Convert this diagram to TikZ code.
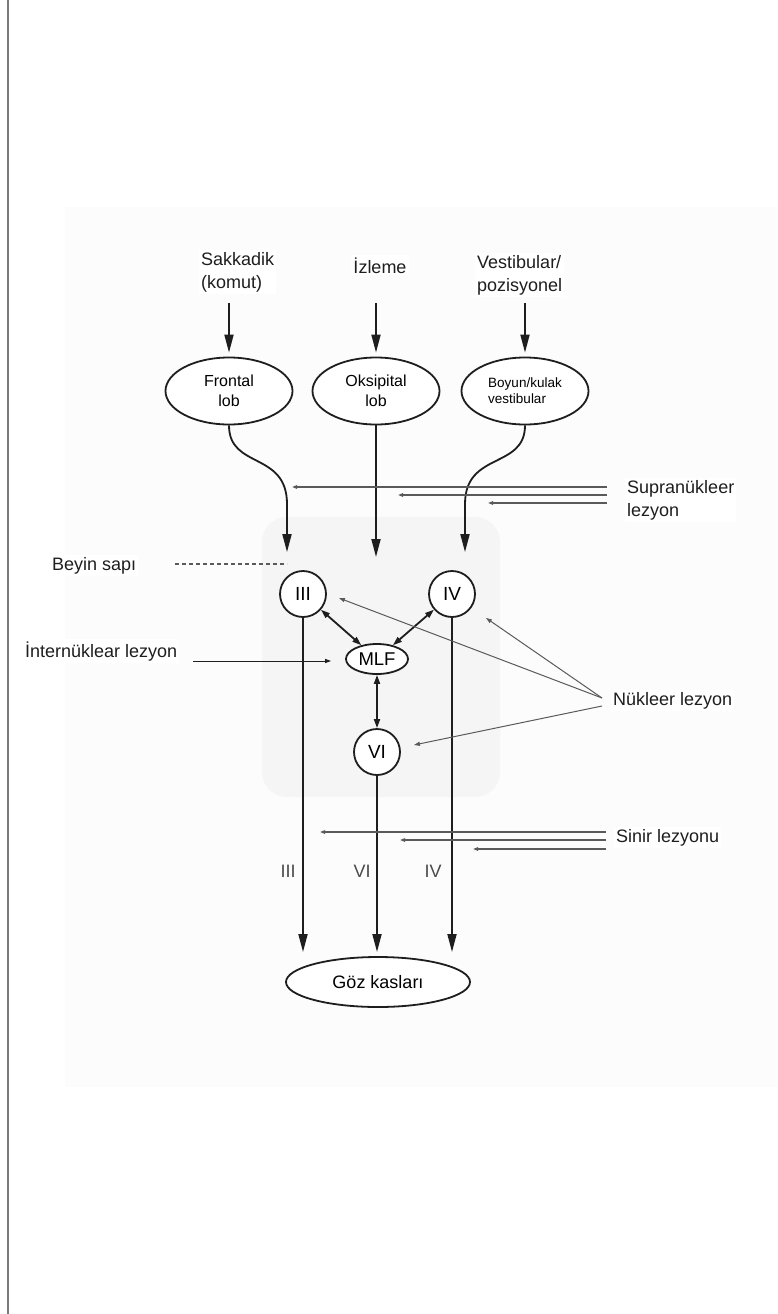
\documentclass[tikz,border=0pt]{standalone}
\usepackage{fontspec}
\setmainfont{Liberation Sans}
\usetikzlibrary{shapes.geometric, arrows.meta}

\definecolor{ink}{HTML}{1E1E1E}
\definecolor{lesion}{HTML}{5A5A5A}
\definecolor{panel}{HTML}{FCFCFC}
\definecolor{ghost}{HTML}{F5F5F5}
\definecolor{rule}{HTML}{7A7A7A}
\definecolor{nervegray}{HTML}{4A4A4A}

\begin{document}
\begin{tikzpicture}[x=1pt, y=-1pt,
  lobe/.style={draw=ink, line width=1.8pt, ellipse, inner sep=0pt,
    minimum width=127pt, minimum height=67pt, align=center, fill=white,
    font=\fontsize{16}{20}\selectfont},
  nucleus/.style={draw=ink, line width=1.8pt, circle, inner sep=0pt,
    minimum size=46pt, fill=white, font=\fontsize{19}{22}\selectfont},
  txt/.style={fill=white, inner sep=2pt, text=ink,
    font=\fontsize{18}{23}\selectfont},
  nervetxt/.style={text=nervegray, inner sep=0pt,
    font=\fontsize{18}{22}\selectfont},
  bigarrow/.style={draw=ink, line width=1.8pt,
    -{Triangle[length=18pt,width=9pt]}},
  twoway/.style={draw=ink, line width=1.8pt,
    {Triangle[length=9pt,width=6pt]}-{Triangle[length=9pt,width=6pt]}},
  lesionarrow/.style={draw=lesion, line width=1.3pt,
    -{Triangle[length=5pt,width=3.5pt]}},
  pointer/.style={draw=lesion, line width=1pt,
    -{Triangle[length=6pt,width=4pt]}},
  dashrule/.style={draw=lesion, line width=1.2pt, dash pattern=on 4pt off 3pt},
]
% page, panel and frame
\useasboundingbox (0,0) rectangle (777,1314);
\fill[white] (0,0) rectangle (777,1314);
\fill[panel] (65,207) rectangle (777,1087);
\fill[ghost, rounded corners=25pt] (262,517) rectangle (500,797);
\draw[rule, line width=1.5pt] (8,0) -- (8,1314);

% input labels
\node[txt, anchor=north west, align=left] (sakkadik) at (199,250) {Sakkadik\\(komut)};
\node[txt, anchor=base] (izleme) at (380,273) {İzleme};
\node[txt, anchor=north west, align=left] (vestib) at (475,253) {Vestibular/\\pozisyonel};

% cortical / peripheral sources
\node[lobe] (frontal) at (229,391) {Frontal\\lob};
\node[lobe] (oksipital) at (376,391) {Oksipital\\lob};
\node[lobe, align=left, font=\fontsize{13.5}{16}\selectfont] (boyun) at (525,391) {Boyun/kulak\\vestibular};

% brainstem nuclei
\node[nucleus] (III) at (303,594) {III};
\node[nucleus] (IV) at (452,594) {IV};
\node[nucleus] (VI) at (377,752) {VI};
\node[draw=ink, line width=1.8pt, ellipse, inner sep=0pt, minimum width=62pt,
  minimum height=30pt, fill=white, font=\fontsize{18.5}{22}\selectfont] (MLF) at (377,659) {MLF};

% target
\node[draw=ink, line width=1.8pt, ellipse, inner sep=0pt, minimum width=184pt,
  minimum height=50pt, fill=white, font=\fontsize{18}{22}\selectfont] (goz) at (378,982) {Göz kasları};

% lesion labels
\node[txt, anchor=north west, align=left] (supra) at (625,478) {Supranükleer\\lezyon};
\node[txt, anchor=base west] (beyin) at (50,570) {Beyin sapı};
\node[txt, anchor=base west] (intern) at (23,657) {İnternüklear lezyon};
\node[txt, anchor=base west] (nukleer) at (611,705) {Nükleer lezyon};
\node[txt, anchor=base west] (sinir) at (614,842) {Sinir lezyonu};

% nerve labels
\node[nervetxt, anchor=base] (n3) at (288,877) {III};
\node[nervetxt, anchor=base] (n6) at (362,877) {VI};
\node[nervetxt, anchor=base] (n4) at (433,877) {IV};

% input arrows
\coordinate (topline) at (0,303);
\draw[bigarrow, shorten >=4pt] (frontal.north |- topline) -- (frontal.north);
\draw[bigarrow, shorten >=4pt] (oksipital.north |- topline) -- (oksipital.north);
\draw[bigarrow, shorten >=4pt] (boyun.north |- topline) -- (boyun.north);

% descending pathways to the brainstem
\coordinate (f-end) at ([xshift=-16pt,yshift=18pt]III.north);
\coordinate (b-end) at ([xshift=13pt,yshift=18pt]IV.north);
\coordinate (o-end) at (0,557);
\draw[bigarrow] (frontal.south) .. controls +(0,44) and +(0,-53) .. ([yshift=48pt]f-end) -- (f-end);
\draw[bigarrow] (boyun.south) .. controls +(0,44) and +(0,-53) .. ([yshift=48pt]b-end) -- (b-end);
\draw[bigarrow] (oksipital.south) -- (oksipital.south |- o-end);

% MLF links
\draw[twoway] (III) -- (MLF);
\draw[twoway] (IV) -- (MLF);
\draw[twoway] (MLF) -- (VI);

% cranial nerves to the eye muscles
\coordinate (tips) at (0,952);
\draw[bigarrow] (III.south) -- (III.south |- tips);
\draw[bigarrow] (VI.south) -- (VI.south |- tips);
\draw[bigarrow] (IV.south) -- (IV.south |- tips);

% supranuclear lesion markers
\coordinate (s1) at (607,487);
\coordinate (s2) at (607,495);
\coordinate (s3) at (607,503);
\draw[lesionarrow] (s1) -- ++(-315,0);
\draw[lesionarrow] (s2) -- ++(-209,0);
\draw[lesionarrow] (s3) -- ++(-119,0);

% nerve lesion markers
\coordinate (r1) at (606,832);
\coordinate (r2) at (606,840);
\coordinate (r3) at (606,849);
\draw[lesionarrow] (r1) -- ++(-286,0);
\draw[lesionarrow] (r2) -- ++(-206,0);
\draw[lesionarrow] (r3) -- ++(-133,0);

% nuclear lesion pointers
\coordinate (nk1) at (602,698);
\coordinate (nk2) at (602,706);
\draw[pointer] (nk1) -- ([xshift=12pt,yshift=-4pt]III.east);
\draw[pointer] (nk1) -- ([xshift=17pt,yshift=-7pt]IV.south east);
\draw[pointer] (nk2) -- ([xshift=13pt,yshift=7pt]VI.east);

% internuclear lesion pointer
\coordinate (ia) at (193,661);
\draw[pointer, draw=ink] (ia) -- ([xshift=-14pt,yshift=-2pt]MLF.west);

% brainstem boundary
\coordinate (d1) at (175,564);
\draw[dashrule] (d1) -- ([xshift=-16pt]III.north |- d1);
\end{tikzpicture}
\end{document}
